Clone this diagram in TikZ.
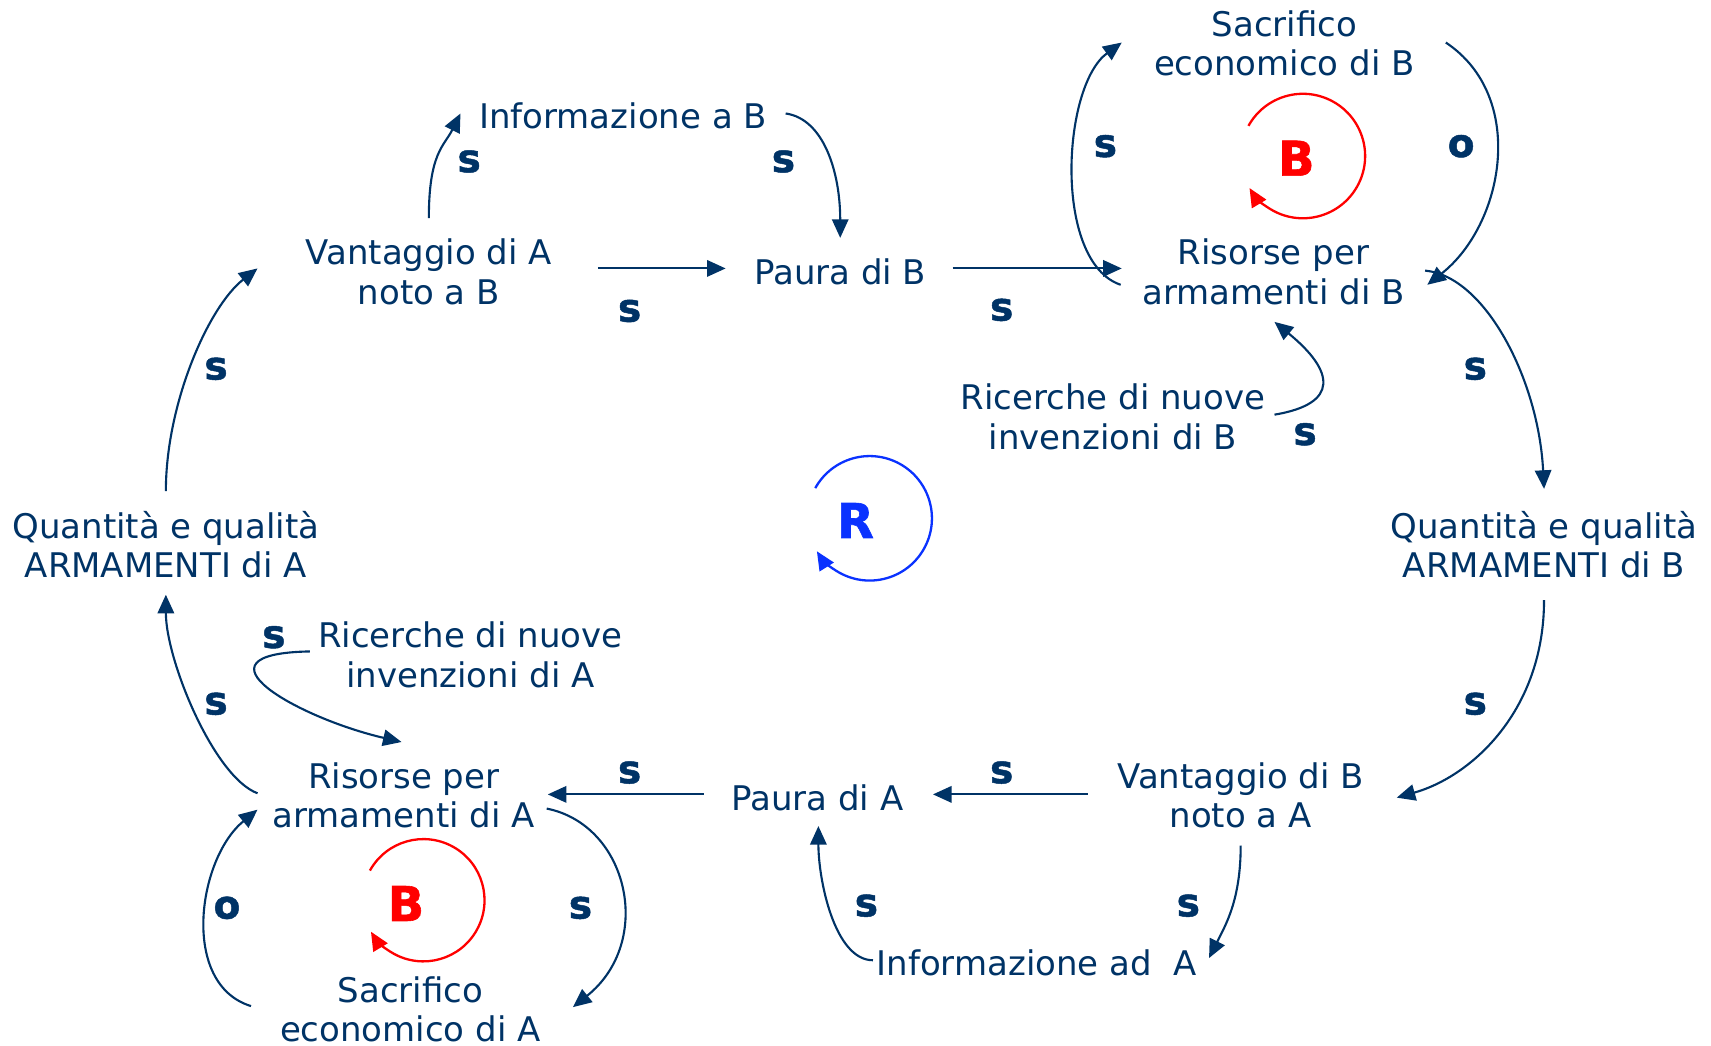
\documentclass[tikz,border=0pt]{standalone}
\usepackage{fontspec}
\setmainfont{DejaVu Sans}
\newfontfamily\heavyfont[FakeBold=1.2]{DejaVu Sans Bold}
\usetikzlibrary{arrows.meta}
\definecolor{navy}{RGB}{0,51,102}
\definecolor{loopred}{RGB}{255,0,0}
\definecolor{loopblue}{RGB}{10,50,255}
\begin{document}
\begin{tikzpicture}[x=0.01cm,y=-0.01cm,
  var/.style={text=navy, align=center, inner sep=0pt, font=\fontsize{8.85}{10.24}\selectfont},
  pol/.style={text=navy, inner sep=0pt, font=\heavyfont\fontsize{10.2}{12}\selectfont},
  link/.style={draw=navy, line width=0.55pt, -{Triangle[length=0.17cm,width=0.15cm]}},
  looplbl/.style={inner sep=0pt, font=\heavyfont\fontsize{12.5}{14}\selectfont},
  looparc/.style={line width=0.6pt, -{Triangle[length=0.17cm,width=0.15cm]}},
]
\useasboundingbox (0,0) rectangle (1568,958);

% variables
\node[var] (infB) at (571,106) {Informazione a B};
\node[var] (vA)   at (393,249) {Vantaggio di A\\noto a B};
\node[var] (pB)   at (770,249) {Paura di B};
\node[var] (sB)   at (1177,40) {Sacrifico\\economico di B};
\node[var] (rB)   at (1167,249) {Risorse per\\armamenti di B};
\node[var] (ricB) at (1020,382) {Ricerche di nuove\\invenzioni di B};
\node[var] (qA)   at (152,499) {Quantità e qualità\\ARMAMENTI di A};
\node[var] (qB)   at (1415,499) {Quantità e qualità\\ARMAMENTI di B};
\node[var] (ricA) at (431,600) {Ricerche di nuove\\invenzioni di A};
\node[var] (rA)   at (370,729) {Risorse per\\armamenti di A};
\node[var] (pA)   at (749,731) {Paura di A};
\node[var] (vB)   at (1137,729) {Vantaggio di B\\noto a A};
\node[var] (infA) at (950,882) {Informazione ad~~A};
\node[var] (sA)   at (376,925) {Sacrifico\\economico di A};

% causal links
\draw[link] ([shift={(0,-49)}]vA.center) .. controls +(0,-60) and +(-15,30) .. ([shift={(-149,-2)}]infB.center);
\draw[link] ([shift={(149,-2)}]infB.center) .. controls +(35,5) and +(0,-60) .. ([shift={(0,-31)}]pB.center);
\draw[link] ([shift={(155,-3)}]vA.center) -- ([shift={(-105,-3)}]pB.center);
\draw[link] ([shift={(103,-3)}]pB.center) -- ([shift={(-139,-3)}]rB.center);
\draw[link] ([shift={(-140,12)}]rB.center) .. controls +(-62,-21) and +(-55,40) .. ([shift={(-149,-1)}]sB.center);
\draw[link] ([shift={(148,-1)}]sB.center) .. controls +(75,50) and +(70,-55) .. ([shift={(141,12)}]rB.center);
\draw[link] ([shift={(148,-2)}]ricB.center) .. controls +(60,-10) and +(55,45) .. ([shift={(1,46)}]rB.center);
\draw[link] ([shift={(139,-1)}]rB.center) .. controls +(55,5) and +(-5,-100) .. ([shift={(0,-51)}]qB.center);
\draw[link] ([shift={(0,51)}]qB.center) .. controls +(0,100) and +(70,-20) .. ([shift={(143,2)}]vB.center);
\draw[link] ([shift={(-140,-1)}]vB.center) -- ([shift={(106,-3)}]pA.center);
\draw[link] ([shift={(0,46)}]vB.center) .. controls +(0,50) and +(15,-30) .. ([shift={(158,-4)}]infA.center);
\draw[link] ([shift={(-150,-2)}]infA.center) .. controls +(-35,0) and +(0,50) .. ([shift={(1,26)}]pA.center);
\draw[link] ([shift={(-104,-3)}]pA.center) -- ([shift={(132,-1)}]rA.center);
\draw[link] ([shift={(-147,-3)}]ricA.center) .. controls +(-115,2) and +(-95,-22) .. ([shift={(-2,-49)}]rA.center);
\draw[link] ([shift={(-134,-2)}]rA.center) .. controls +(-40,-15) and +(0,60) .. ([shift={(0,46)}]qA.center);
\draw[link] ([shift={(0,-49)}]qA.center) .. controls +(0,-80) and +(-45,35) .. ([shift={(-157,-3)}]vA.center);
\draw[link] ([shift={(131,12)}]rA.center) .. controls +(75,15) and +(75,-60) .. ([shift={(149,-2)}]sA.center);
\draw[link] ([shift={(-146,-3)}]sA.center) .. controls +(-65,-20) and +(-55,45) .. ([shift={(-134,13)}]rA.center);

% link polarities
\node[pol] (p1)  at (430,148) {s};
\node[pol] (p2)  at (718,148) {s};
\node[pol] (p3)  at (577,285) {s};
\node[pol] (p4)  at (918,284) {s};
\node[pol] (p5)  at (1013,134) {s};
\node[pol] (p6)  at (1339,134) {o};
\node[pol] (p7)  at (1196,398) {s};
\node[pol] (p8)  at (1352,338) {s};
\node[pol] (p9)  at (198,338) {s};
\node[pol] (p10) at (1352,645) {s};
\node[pol] (p11) at (198,645) {s};
\node[pol] (p12) at (251,584) {s};
\node[pol] (p13) at (577,708) {s};
\node[pol] (p14) at (918,708) {s};
\node[pol] (p15) at (208,832) {o};
\node[pol] (p16) at (532,832) {s};
\node[pol] (p17) at (794,830) {s};
\node[pol] (p18) at (1089,830) {s};

% loop markers
\coordinate (Rc) at (797,475);
\coordinate (Btc) at (1194,143);
\coordinate (Bbc) at (388,825);
\node[looplbl, text=loopblue] (Rl) at (784,477) {R};
\node[looplbl, text=loopred] (Btl) at (1188,145) {B};
\node[looplbl, text=loopred] (Bbl) at (372,828) {B};
\draw[looparc, loopblue] ([shift={(151:0.57cm)}]Rc) arc[start angle=151, end angle=-148, radius=0.57cm];
\draw[looparc, loopred] ([shift={(151:0.57cm)}]Btc) arc[start angle=151, end angle=-149, radius=0.57cm];
\draw[looparc, loopred] ([shift={(151:0.56cm)}]Bbc) arc[start angle=151, end angle=-149, radius=0.56cm];
\end{tikzpicture}
\end{document}
